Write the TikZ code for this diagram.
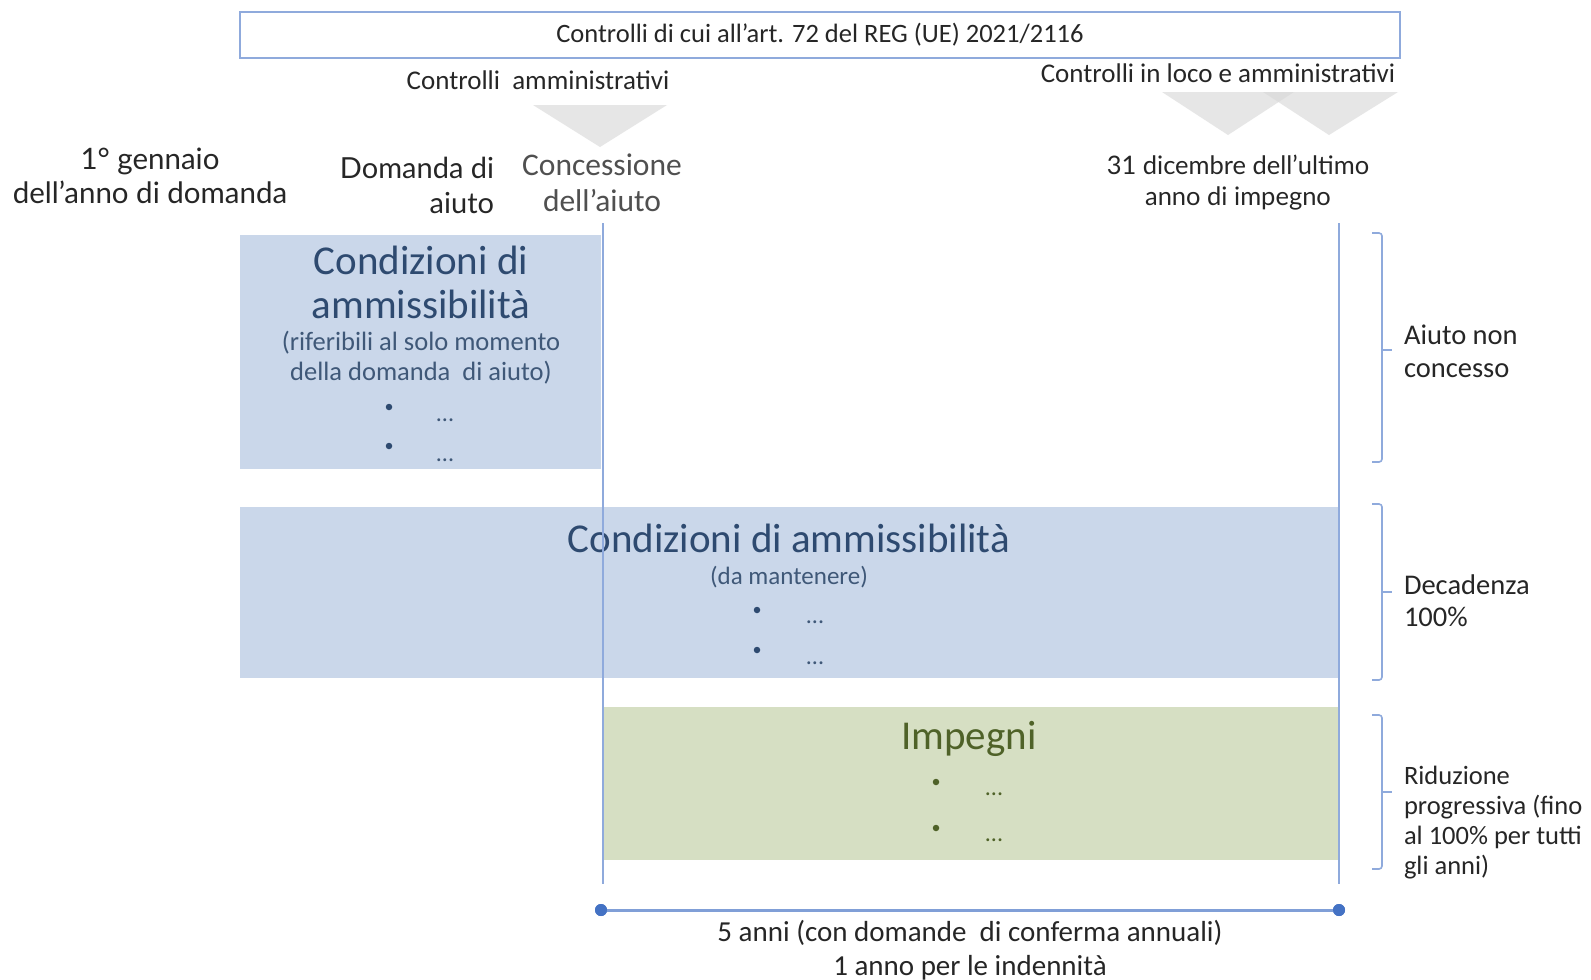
\documentclass[tikz,border=0pt]{standalone}
\usepackage{fontspec}
\setmainfont{Carlito}
\newfontfamily\latofont{Lato}
\definecolor{boxblue}{HTML}{CAD7EA}
\definecolor{boxgreen}{HTML}{D6DFC3}
\definecolor{titleblue}{HTML}{2E4A70}
\definecolor{subblue}{HTML}{3F5878}
\definecolor{greentext}{HTML}{4F6228}
\definecolor{lineblue}{HTML}{8FAADC}
\definecolor{dotblue}{HTML}{4472C4}
\definecolor{txtgray}{HTML}{262626}
\definecolor{concgray}{HTML}{505050}
\definecolor{trigray}{HTML}{D9D9D9}
\begin{document}
\begin{tikzpicture}[x=1pt,y=-1pt,
  every node/.style={inner sep=0pt,outer sep=0pt},
  vline/.style={draw=lineblue,line width=2pt},
  bracestyle/.style={draw=lineblue,line width=1.6pt},
  tri/.style={fill=trigray,fill opacity=0.65,draw=none},
  lbl/.style={text=txtgray,align=center},
  sidelbl/.style={text=txtgray,align=left,anchor=west},
  bul/.style={circle,minimum size=6.5pt},
  dots/.style={font=\fontsize{24}{26}\selectfont}
]
\useasboundingbox (0,0) rectangle (1591,980);
\fill[white] (0,0) rectangle (1591,980);

% header box
\node[draw=lineblue,line width=2pt,minimum width=1160pt,minimum height=46pt,
  text=txtgray,font=\fontsize{26.5}{30}\selectfont] (hdr) at (820,35)
  {Controlli di cui all’art. 72 del REG (UE) 2021/2116};

% control labels
\node[lbl,font=\fontsize{27}{30}\selectfont] (ctrlA) at (538,80) {Controlli\ \ amministrativi};
\node[lbl,font=\fontsize{27}{30}\selectfont] (ctrlB) at (1218,73) {Controlli in loco e amministrativi};

% triangles
\fill[tri] (533,105) -- (667,105) -- (600,147) -- cycle;
\fill[tri] (1162,92) -- (1294,92) -- (1228,135) -- cycle;
\fill[tri] (1263,92) -- (1398,92) -- (1329,135) -- cycle;

% timeline labels
\node[lbl,font=\latofont\fontsize{29.5}{34}\selectfont] (jan) at (150,176) {1° gennaio\\dell’anno di domanda};
\node[lbl,align=right,anchor=east,font=\latofont\fontsize{29}{35}\selectfont] (dom) at (494,185) {Domanda di\\aiuto};
\node[lbl,text=concgray,font=\fontsize{31.5}{36}\selectfont] (conc) at (602,183) {Concessione\\dell’aiuto};
\node[lbl,font=\latofont\fontsize{25.5}{31}\selectfont] (dec) at (1238,183) {31 dicembre dell’ultimo\\anno di impegno};

% boxes
\fill[boxblue] (240,235) rectangle (601,469);
\fill[boxblue] (240,507) rectangle (1339,678);
\fill[boxgreen] (604,707) rectangle (1339,860);

% box 1 texts
\node[text=titleblue,align=center,font=\fontsize{41}{44}\selectfont] (c1t) at (421,282) {Condizioni di\\ammissibilità};
\node[text=subblue,align=center,font=\fontsize{26.5}{30}\selectfont] (c1s) at (421,358) {(riferibili al solo momento\\della domanda\ \ di aiuto)};
\node[bul,fill=titleblue] (c1b1) at (389,407) {};
\node[bul,fill=titleblue] (c1b2) at (389,446) {};
\node[dots,text=subblue] (c1d1) at (445,420) {...};
\node[dots,text=subblue] (c1d2) at (445,460) {...};

% box 2 texts
\node[text=titleblue,font=\fontsize{41}{44}\selectfont] (c2t) at (789,538) {Condizioni di ammissibilità};
\node[text=subblue,font=\fontsize{25}{28}\selectfont] (c2s) at (789,577) {(da mantenere)};
\node[bul,fill=titleblue] (c2b1) at (757,610) {};
\node[bul,fill=titleblue] (c2b2) at (757,650) {};
\node[dots,text=subblue] (c2d1) at (815,622) {...};
\node[dots,text=subblue] (c2d2) at (815,663) {...};

% box 3 texts
\node[text=greentext,font=\fontsize{41}{44}\selectfont] (c3t) at (969,739) {Impegni};
\node[bul,fill=greentext] (c3b1) at (936,782) {};
\node[bul,fill=greentext] (c3b2) at (936,828) {};
\node[dots,text=greentext] (c3d1) at (994,794) {...};
\node[dots,text=greentext] (c3d2) at (994,840) {...};

% vertical timeline lines
\coordinate (vAtop) at (603,223);
\coordinate (vAbot) at (603,884);
\coordinate (vBtop) at (1339,223);
\coordinate (vBbot) at (1339,884);
\draw[vline] (vAtop) -- (vAbot);
\draw[vline] (vBtop) -- (vBbot);

% braces
\draw[bracestyle,rounded corners=3pt] (1372,233) -| (1382,462) -- (1372,462);
\draw[bracestyle] (1382,350) -- (1392,350);
\draw[bracestyle,rounded corners=3pt] (1372,504) -| (1382,680) -- (1372,680);
\draw[bracestyle] (1382,592) -- (1392,592);
\draw[bracestyle,rounded corners=3pt] (1372,715) -| (1382,869) -- (1372,869);
\draw[bracestyle] (1382,792) -- (1392,792);

% side labels
\node[sidelbl,font=\fontsize{28.5}{33}\selectfont] (s1) at (1404,351) {Aiuto non\\concesso};
\node[sidelbl,font=\fontsize{28.5}{32}\selectfont] (s2) at (1404,601) {Decadenza\\100\%};
\node[sidelbl,font=\fontsize{26.5}{30}\selectfont] (s3) at (1404,823) {Riduzione\\progressiva (fino\\al 100\% per tutti\\gli anni)};

% bottom dimension line
\node[circle,fill=dotblue,minimum size=12pt] (dL) at (601,910) {};
\node[circle,fill=dotblue,minimum size=12pt] (dR) at (1339,910) {};
\draw[draw=lineblue!80!dotblue,line width=3pt] (dL.center) -- (dR.center);
\node[circle,fill=dotblue,minimum size=12pt] at (dL.center) {};
\node[circle,fill=dotblue,minimum size=12pt] at (dR.center) {};
\node[lbl,font=\fontsize{29}{34}\selectfont] (dur) at (970,950) {5 anni (con domande\ \ di conferma annuali)\\1 anno per le indennità};
\end{tikzpicture}
\end{document}
